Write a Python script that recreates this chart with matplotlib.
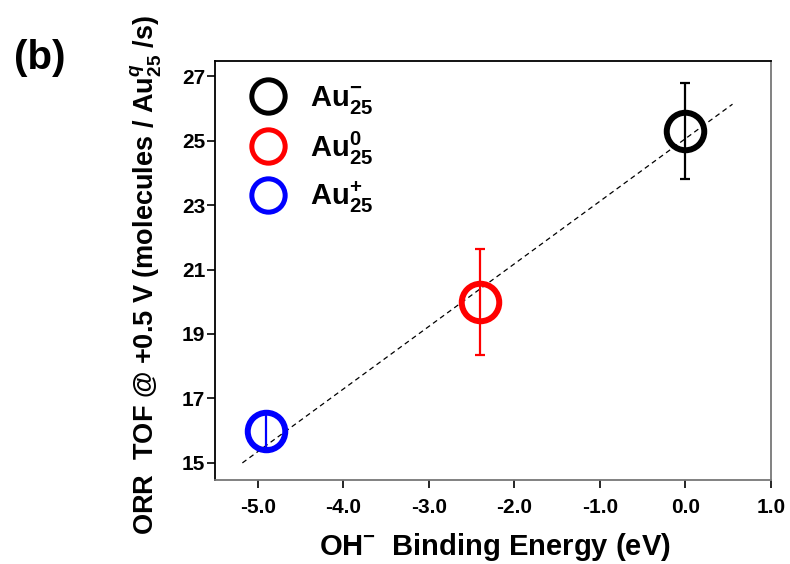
import matplotlib
matplotlib.use("Agg")
import matplotlib.pyplot as plt
from matplotlib.lines import Line2D

plt.rcParams['font.family'] = ['Liberation Sans', 'DejaVu Sans']
plt.rcParams['font.weight'] = 'bold'
plt.rcParams['mathtext.fontset'] = 'custom'
plt.rcParams['mathtext.rm'] = 'Liberation Sans:bold'
plt.rcParams['mathtext.bf'] = 'Liberation Sans:bold'
plt.rcParams['mathtext.it'] = 'Liberation Sans:bold:italic'

# data
labels = [r'$\mathrm{Au}_{25}^{-}$', r'$\mathrm{Au}_{25}^{0}$', r'$\mathrm{Au}_{25}^{+}$']
binding_energy = [0.0, -2.4, -4.9]
tof = [25.3, 20.0, 16.0]
tof_err = [1.5, 1.65, 0.55]
colors = ['black', 'red', 'blue']
fit_x = [-5.18, 0.55]
fit_y = [15.0, 26.13]
xticks = [-5.0, -4.0, -3.0, -2.0, -1.0, 0.0, 1.0]
yticks = [15, 17, 19, 21, 23, 25, 27]

fig = plt.figure(figsize=(7.9, 5.64), dpi=100)
ax = fig.add_axes([215/790, 1-480/564, (771-215)/790, (480-61)/564])

ax.plot(fit_x, fit_y, linestyle=(0, (4, 3)), color='black', lw=0.9, zorder=1)

for x, y, e, c in zip(binding_energy, tof, tof_err, colors):
    ax.errorbar(x, y, yerr=e, fmt='none', ecolor=c, elinewidth=1.6, capsize=3.5, capthick=1.6, zorder=2)
    ax.plot(x, y, marker='o', ms=27, mfc='none', mec=c, mew=4.3, linestyle='none', zorder=3)

handles = [Line2D([], [], marker='o', ms=24, mfc='none', mec=c, mew=3.6, linestyle='none') for c in colors]
leg = ax.legend(handles, labels, loc='upper left', frameon=False, fontsize=21,
                bbox_to_anchor=(0.0, 1.0), borderaxespad=0.3, labelspacing=0.45,
                handletextpad=0.45, borderpad=0.5, handlelength=2.0)

ax.set_xlim(-5.5, 1.0)
ax.set_ylim(14.47, 27.47)
ax.set_xticks(xticks)
ax.set_xticklabels([f'{t:.1f}' for t in xticks])
ax.set_yticks(yticks)
ax.tick_params(axis='both', labelsize=15, direction='out', length=6, width=1.2)
ax.tick_params(axis='y', pad=1)
ax.tick_params(axis='x', pad=7)
for lab in ax.get_xticklabels() + ax.get_yticklabels():
    lab.set_fontweight('bold')

for s in ['top', 'left']:
    ax.spines[s].set_color('black')
for s in ['right', 'bottom']:
    ax.spines[s].set_color('#777777')
for s in ax.spines.values():
    s.set_linewidth(1.3)

fig.text(495/790, 1-555/564, r'OH$^{-}$  Binding Energy (eV)', fontsize=21, fontweight='bold',
         ha='center', va='baseline')
fig.text(146/790, 1-275/564, r'ORR  TOF @ +0.5 V (molecules / Au$_{25}^{\mathit{q}}$ /s)',
         fontsize=19.5, fontweight='bold', rotation=90, ha='center', va='center')

fig.text(40/790, 1-58/564, '(b)', fontsize=29, fontweight='bold', ha='center', va='center')

fig.savefig('out.png', dpi=100)
